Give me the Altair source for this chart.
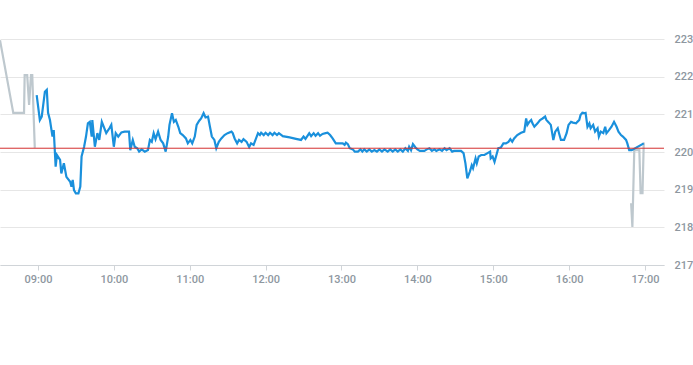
import altair as alt
import pandas as pd

DAY = "2024-01-02 "

# Pre-market (grey)
pre_times = ["08:30:00", "08:40:30", "08:49:00", "08:49:30", "08:51:30", "08:53:00",
             "08:54:30", "08:55:30", "08:57:30"]
pre_prices = [222.97, 221.04, 221.04, 222.04, 222.04, 221.25, 222.04, 222.04, 220.11]

# Post-market (grey)
post_times = ["16:49:00", "16:50:00", "16:51:30", "16:55:30", "16:56:30", "16:58:00", "16:59:00"]
post_prices = [218.64, 218.01, 220.05, 220.05, 218.91, 218.91, 220.25]

# Regular session (blue)
times = [
    "08:59:00","09:01:30","09:03:00","09:05:30","09:07:00","09:08:00","09:09:30","09:11:30","09:12:30","09:14:00",
    "09:15:00","09:17:30","09:18:30","09:20:30","09:22:30","09:25:30","09:26:30","09:27:30","09:28:30","09:30:00",
    "09:32:00","09:33:30","09:34:30","09:36:30","09:38:00","09:39:30","09:41:00","09:42:30","09:43:00","09:45:00",
    "09:47:00","09:48:30","09:50:30","09:54:00","09:56:30","09:58:00","10:00:00","10:01:30","10:03:30","10:06:00",
    "10:08:30","10:12:00","10:13:00","10:15:00","10:16:30","10:18:30","10:20:00","10:22:00","10:24:30","10:27:00",
    "10:28:30","10:30:00","10:31:30","10:33:00","10:35:00","10:37:00","10:39:00","10:41:00","10:43:00","10:44:00",
    "10:46:00","10:47:30","10:49:00","10:51:00","10:52:30","10:54:30","10:57:00","10:58:30","11:00:30","11:02:00",
    "11:04:00","11:05:30","11:07:30","11:09:00","11:11:00","11:12:30","11:14:30","11:16:00","11:17:30","11:19:30",
    "11:21:00","11:23:00","11:25:00","11:27:30","11:30:00","11:33:00","11:34:00","11:35:30","11:37:30","11:39:00",
    "11:41:00","11:42:30","11:45:00","11:47:00","11:48:30","11:50:30","11:52:00","11:54:00","11:55:30","11:56:30",
    "11:58:30","12:00:00","12:02:00","12:03:30","12:05:30","12:07:00","12:09:00","12:10:30","12:12:30","12:13:30",
    "12:19:00","12:24:00","12:28:00","12:30:00","12:31:30","12:33:30","12:34:30","12:36:00","12:38:00","12:39:30",
    "12:41:30","12:43:00","12:45:00","12:47:30","12:49:00","12:51:00","12:53:00","12:55:30","12:58:30","13:01:00",
    "13:02:30","13:03:30","13:05:00","13:06:30","13:09:00","13:10:30","13:13:00","13:15:00","13:16:30","13:18:00",
    "13:20:00","13:22:00","13:24:00","13:26:00","13:28:00","13:30:00","13:32:00","13:34:00","13:36:30","13:38:30",
    "13:40:30","13:42:30","13:44:30","13:46:30","13:48:30","13:50:30","13:52:30","13:53:30","13:55:00","13:56:30",
    "13:58:30","14:00:00","14:02:00","14:05:30","14:07:30","14:09:30","14:11:30","14:13:30","14:15:00","14:17:30",
    "14:19:30","14:21:30","14:23:00","14:25:30","14:27:30","14:29:00","14:34:30","14:36:30","14:38:00","14:39:30",
    "14:41:30","14:43:00","14:44:00","14:46:00","14:47:00","14:48:30","14:50:30","14:53:00","14:55:30","14:57:30",
    "14:58:00","14:59:30","15:01:00","15:02:30","15:04:00","15:06:00","15:08:00","15:10:00","15:12:00","15:13:30",
    "15:15:00","15:16:30","15:19:00","15:22:00","15:24:30","15:26:00","15:27:00","15:28:30","15:30:00","15:31:00",
    "15:32:30","15:35:00","15:37:00","15:39:00","15:41:00","15:42:00","15:44:00","15:45:30","15:47:30","15:49:00",
    "15:51:00","15:52:00","15:53:30","15:56:00","15:58:00","15:59:30","16:01:30","16:03:00","16:05:30","16:06:30",
    "16:08:00","16:09:00","16:10:30","16:12:00","16:13:00","16:14:30","16:16:00","16:17:00","16:19:00","16:20:30",
    "16:22:30","16:23:30","16:25:00","16:27:00","16:28:30","16:29:30","16:31:30","16:33:30","16:35:30","16:37:30",
    "16:39:00","16:41:00","16:42:30","16:45:00","16:46:00","16:47:30","16:49:30","16:59:00",
]
prices = [
    221.51,220.85,220.94,221.60,221.65,221.04,220.85,220.41,220.58,219.61,
    219.92,219.79,219.43,219.70,219.34,219.21,219.08,219.26,218.99,218.90,
    218.90,219.08,219.88,220.14,220.41,220.76,220.80,220.41,220.85,220.14,
    220.50,220.32,220.80,220.50,220.63,220.72,220.14,220.50,220.41,220.52,
    220.54,220.54,220.05,220.32,220.14,220.10,220.01,220.07,220.01,220.05,
    220.32,220.27,220.50,220.34,220.54,220.32,220.23,220.01,220.41,220.72,
    221.03,220.80,220.85,220.67,220.50,220.45,220.36,220.23,220.32,220.23,
    220.41,220.72,220.83,220.89,221.03,220.92,220.94,220.67,220.41,220.32,
    220.10,220.27,220.36,220.45,220.50,220.54,220.50,220.36,220.23,220.32,
    220.27,220.34,220.27,220.13,220.23,220.19,220.32,220.50,220.45,220.51,
    220.45,220.51,220.45,220.51,220.45,220.51,220.45,220.50,220.45,220.42,
    220.39,220.35,220.32,220.41,220.35,220.45,220.50,220.42,220.50,220.43,
    220.50,220.43,220.48,220.50,220.51,220.45,220.36,220.23,220.23,220.23,
    220.19,220.25,220.21,220.10,220.07,220.01,220.01,220.07,220.01,220.07,
    220.01,220.07,220.01,220.05,220.01,220.07,220.01,220.07,220.01,220.07,
    220.01,220.07,220.01,220.07,220.01,220.10,220.03,220.14,220.05,220.21,
    220.12,220.07,220.03,220.03,220.07,220.10,220.03,220.07,220.03,220.07,
    220.03,220.10,220.05,220.10,220.01,220.03,220.03,219.97,219.70,219.30,
    219.48,219.65,219.57,219.83,219.70,219.88,219.92,219.92,219.97,220.01,
    219.83,219.88,219.74,219.92,220.10,220.12,220.23,220.23,220.27,220.34,
    220.27,220.36,220.45,220.51,220.54,220.89,220.72,220.80,220.85,220.76,
    220.67,220.76,220.85,220.89,220.94,220.85,220.78,220.72,220.32,220.54,
    220.63,220.50,220.32,220.32,220.50,220.72,220.80,220.78,220.76,220.80,
    220.85,220.98,221.04,221.03,221.04,220.67,220.76,220.63,220.72,220.54,
    220.63,220.41,220.54,220.50,220.67,220.50,220.58,220.67,220.80,220.67,
    220.54,220.45,220.41,220.32,220.23,220.05,220.05,220.23,
]
assert len(times) == len(prices)

reference_price = 220.1
hour_ticks = [9, 10, 11, 12, 13, 14, 15, 16, 17]
price_ticks = [217, 218, 219, 220, 221, 222, 223]


def frame(ts, ps):
    return pd.DataFrame({"t": pd.to_datetime([DAY + t for t in ts]), "p": ps})


x_scale = alt.Scale(domain=[alt.DateTime(year=2024, month=1, date=2, hours=8, minutes=30),
                            alt.DateTime(year=2024, month=1, date=2, hours=17, minutes=15)])
y_scale = alt.Scale(domain=[217, 223], nice=False, zero=False)

x_axis = alt.Axis(
    title=None, format="%H:%M", grid=False,
    values=[alt.DateTime(year=2024, month=1, date=2, hours=h) for h in hour_ticks],
    domainColor="#d0d4d8", tickColor="#d0d4d8", tickSize=5,
    labelColor="#8e979f", labelFontSize=11, labelFont="Roboto", labelFontWeight=500,
    labelPadding=3, labelOverlap=False,
)
y_axis = alt.Axis(
    title=None, orient="right", values=price_ticks, tickCount=7, format="d",
    grid=True, gridColor="#e6e6e6", domain=False, ticks=False,
    labelColor="#8e979f", labelFontSize=11, labelFont="Roboto", labelFontWeight=500,
    labelPadding=10, labelOverlap=False, labelBound=False,
)

X = alt.X("t:T", scale=x_scale, axis=x_axis)
Y = alt.Y("p:Q", scale=y_scale, axis=y_axis)

base = alt.Chart(frame(times, prices)).mark_line(color="#1a90dc", strokeWidth=2.2).encode(x=X, y=Y)
pre = alt.Chart(frame(pre_times, pre_prices)).mark_line(color="#bec8ce", strokeWidth=2.2).encode(x=X, y=Y)
post = alt.Chart(frame(post_times, post_prices)).mark_line(color="#bec8ce", strokeWidth=2.2).encode(x=X, y=Y)
rule = alt.Chart(pd.DataFrame({"p": [reference_price]})).mark_rule(
    color="#d32f2f", strokeWidth=1).encode(y=Y)

chart = alt.layer(pre, post, base, rule).properties(
    width=664, height=226,
    autosize=alt.AutoSizeParams(type="none"),
    padding={"left": 0, "top": 39, "right": 29, "bottom": 100},
).configure_view(stroke=None)

chart.save("out.html", embed_options={"renderer": "svg", "actions": False})
